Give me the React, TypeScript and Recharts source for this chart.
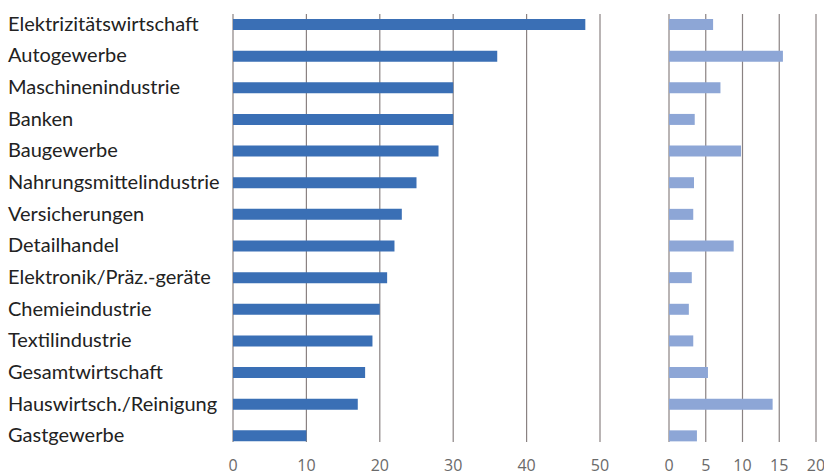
import { BarChart, Bar, XAxis, YAxis, CartesianGrid } from "recharts";

const categories = [
  "Elektrizitätswirtschaft",
  "Autogewerbe",
  "Maschinenindustrie",
  "Banken",
  "Baugewerbe",
  "Nahrungsmittelindustrie",
  "Versicherungen",
  "Detailhandel",
  "Elektronik/Präz.-geräte",
  "Chemieindustrie",
  "Textilindustrie",
  "Gesamtwirtschaft",
  "Hauswirtsch./Reinigung",
  "Gastgewerbe",
];

// left panel values
const leftValues = [48, 36, 30, 30, 28, 25, 23, 22, 21, 20, 19, 18, 17, 10];
// right panel values
const rightValues = [6, 15.5, 7, 3.5, 9.8, 3.4, 3.3, 8.8, 3.1, 2.7, 3.3, 5.3, 14.1, 3.8];

const leftTicks = [0, 10, 20, 30, 40, 50];
const rightTicks = [0, 5, 10, 15, 20];

const data = categories.map((name, i) => ({
  name,
  left: leftValues[i],
  right: rightValues[i],
}));

const LABEL_FONT = "Lato, 'Open Sans', sans-serif";
const NUM_FONT = "'Open Sans', 'DejaVu Sans', sans-serif";
const GRID = "#8a8282";

const CategoryTick = (props: any) => {
  const { y, payload } = props;
  return (
    <text
      x={8}
      y={y}
      dy="0.3em"
      textAnchor="start"
      fontSize={20}
      fontFamily={LABEL_FONT}
      fill="#222"
    >
      {payload.value}
    </text>
  );
};

// vertical grid lines a bit shorter than the plot, like the print
const GridLine = (p: any) => (
  <line
    key={p.key}
    x1={p.x1}
    x2={p.x2}
    y1={14}
    y2={442}
    stroke={GRID}
    strokeWidth={1.2}
  />
);

const numTick = { fontSize: 16, fill: "#6a6a6a", fontFamily: NUM_FONT };

export default function App() {
  return (
    <div
      style={{
        position: "absolute",
        left: 0,
        top: 0,
        width: 824,
        height: 476,
        background: "#fff",
      }}
    >
      {/* Left panel */}
      <div style={{ position: "absolute", left: 0, top: 0 }}>
        <BarChart
          width={610}
          height={476}
          data={data}
          layout="vertical"
          margin={{ top: 9, right: 10, bottom: 0, left: 0 }}
          barSize={11}
        >
          <CartesianGrid horizontal={false} vertical={GridLine} />
          <XAxis
            type="number"
            domain={[0, 50]}
            ticks={leftTicks}
            tick={numTick}
            axisLine={false}
            tickLine={false}
            height={24}
            interval={0}
          />
          <YAxis
            type="category"
            dataKey="name"
            width={233}
            tick={<CategoryTick />}
            axisLine={false}
            tickLine={false}
            interval={0}
          />
          <Bar dataKey="left" fill="#3a6fb5" isAnimationActive={false} />
        </BarChart>
      </div>

      {/* Right panel */}
      <div style={{ position: "absolute", left: 660, top: 0 }}>
        <BarChart
          width={164}
          height={476}
          data={data}
          layout="vertical"
          margin={{ top: 9, right: 8, bottom: 0, left: 9 }}
          barSize={11}
        >
          <CartesianGrid horizontal={false} vertical={GridLine} />
          <XAxis
            type="number"
            domain={[0, 20]}
            ticks={rightTicks}
            tick={numTick}
            axisLine={false}
            tickLine={false}
            height={24}
            interval={0}
          />
          <YAxis type="category" dataKey="name" hide />
          <Bar dataKey="right" fill="#8da6d6" isAnimationActive={false} />
        </BarChart>
      </div>
    </div>
  );
}
